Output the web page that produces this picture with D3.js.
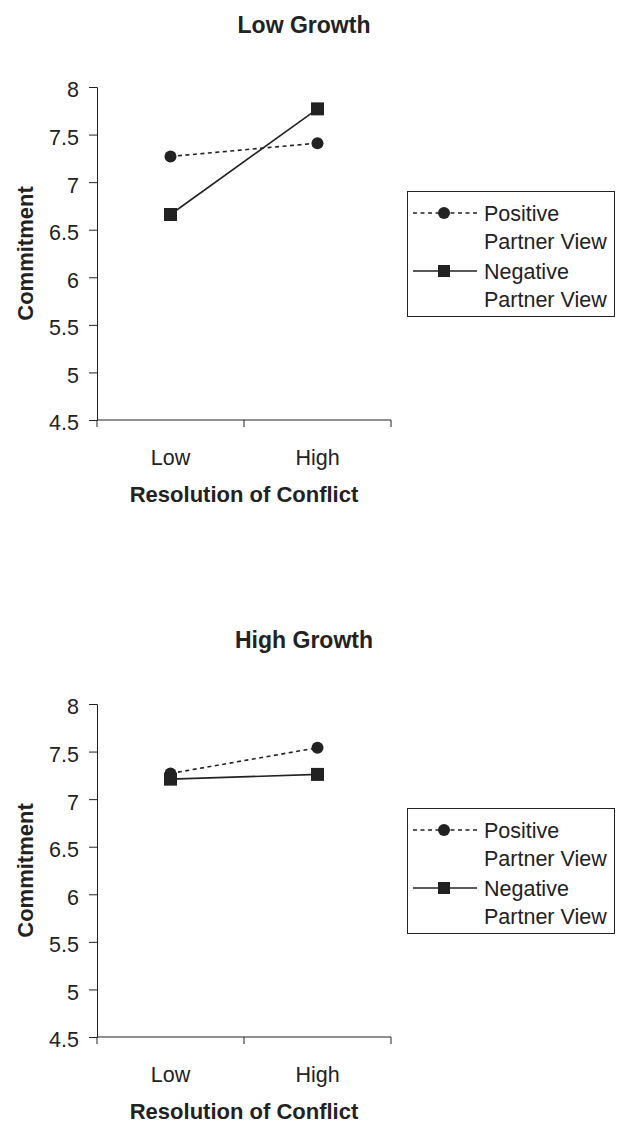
<!DOCTYPE html>
<html>
<head>
<meta charset="utf-8">
<script src="https://cdn.jsdelivr.net/npm/d3@7"></script>
<style>
  body { margin: 0; background: #fff; }
  svg { display: block; font-family: "Liberation Sans", Arial, sans-serif; }
</style>
</head>
<body>
<script>
// chart data
let categories = ["Low", "High"];
let yTicks = [4.5, 5, 5.5, 6, 6.5, 7, 7.5, 8];
let panelTitles = ["Low Growth", "High Growth"];
let seriesNames = ["Positive Partner View", "Negative Partner View"];
let lowGrowthPositive = [7.27, 7.41];
let lowGrowthNegative = [6.66, 7.77];
let highGrowthPositive = [7.27, 7.54];
let highGrowthNegative = [7.21, 7.26];

let panelData = [
  [lowGrowthPositive, lowGrowthNegative],
  [highGrowthPositive, highGrowthNegative],
];

// dimensions
let width = 617;
let height = 1122;
let panelOffset = 617;
let plotLeft = 97;
let plotRight = 391;
let plotTop = 87;
let plotBottom = 420;
let titleY = [33, 31];
let ink = "#222";

let svg = d3
  .select("body")
  .append("svg")
  .attr("width", width)
  .attr("height", height);

let x = d3
  .scaleBand()
  .domain(categories)
  .range([plotLeft, plotRight]);

let y = d3
  .scaleLinear()
  .domain([4.5, 8])
  .range([plotBottom, plotTop]);

let symbolFor = function (i) {
  return i === 0
    ? d3.symbol().type(d3.symbolCircle).size(Math.PI * 36)
    : d3.symbol().type(d3.symbolSquare).size(169);
};

panelTitles.forEach(function (title, p) {
  let g = svg.append("g").attr("transform", `translate(0,${p * panelOffset})`);

  // title
  g.append("text")
    .attr("x", 304)
    .attr("y", titleY[p])
    .attr("text-anchor", "middle")
    .attr("font-weight", "bold")
    .attr("font-size", 23)
    .attr("fill", ink)
    .text(title);

  // y axis
  let yAxis = g
    .append("g")
    .attr("transform", `translate(${plotLeft},0)`)
    .call(
      d3.axisLeft(y).tickValues(yTicks).tickSize(8).tickPadding(10).tickFormat(d3.format("~g"))
    );
  yAxis.select(".domain").attr("stroke", ink);
  yAxis.selectAll(".tick line").attr("stroke", ink);
  yAxis
    .selectAll(".tick text")
    .attr("font-size", 21.5)
    .attr("font-family", "Liberation Sans, Arial, sans-serif")
    .attr("fill", ink)
    .attr("dy", "0.46em");

  // x axis: line, ticks between categories, labels at centers
  let xAxis = g
    .append("g")
    .attr("transform", `translate(0,${plotBottom})`)
    .call(d3.axisBottom(x).tickSize(0).tickPadding(45));
  xAxis.select(".domain").attr("stroke", ink).attr("d", `M${plotLeft},0H${plotRight}`);
  xAxis
    .selectAll(".tick text")
    .attr("font-size", 21.5)
    .attr("font-family", "Liberation Sans, Arial, sans-serif")
    .attr("fill", ink)
    .attr("dy", 0);
  let bounds = categories.map((c) => x(c)).concat([x(categories[1]) + x.bandwidth()]);
  xAxis
    .selectAll("line.sep")
    .data(bounds)
    .join("line")
    .attr("class", "sep")
    .attr("x1", (d) => d)
    .attr("x2", (d) => d)
    .attr("y1", 0)
    .attr("y2", 7)
    .attr("stroke", ink);

  // axis titles
  g.append("text")
    .attr("x", 244)
    .attr("y", 502)
    .attr("text-anchor", "middle")
    .attr("font-weight", "bold")
    .attr("font-size", 22)
    .attr("fill", ink)
    .text("Resolution of Conflict");

  g.append("text")
    .attr("transform", `translate(33,${(plotTop + plotBottom) / 2}) rotate(-90)`)
    .attr("text-anchor", "middle")
    .attr("font-weight", "bold")
    .attr("font-size", 22)
    .attr("fill", ink)
    .text("Commitment");

  // series lines and markers
  let line = d3
    .line()
    .x((d, i) => x(categories[i]) + x.bandwidth() / 2)
    .y((d) => y(d));

  panelData[p].forEach(function (values, s) {
    g.append("path")
      .attr("d", line(values))
      .attr("fill", "none")
      .attr("stroke", ink)
      .attr("stroke-width", 1.6)
      .attr("stroke-dasharray", s === 0 ? "4,3.5" : null);

    g.selectAll(null)
      .data(values)
      .join("path")
      .attr("d", symbolFor(s))
      .attr(
        "transform",
        (d, i) => `translate(${x(categories[i]) + x.bandwidth() / 2},${y(d)})`
      )
      .attr("fill", ink);
  });

  // legend
  let legend = g.append("g");
  legend
    .append("rect")
    .attr("x", 407.5)
    .attr("y", 191.5)
    .attr("width", 207)
    .attr("height", 125)
    .attr("fill", "#fff")
    .attr("stroke", ink);

  let rowY = [213, 271];
  seriesNames.forEach(function (name, s) {
    legend
      .append("line")
      .attr("x1", 413)
      .attr("x2", 477)
      .attr("y1", rowY[s])
      .attr("y2", rowY[s])
      .attr("stroke", ink)
      .attr("stroke-width", 1.6)
      .attr("stroke-dasharray", s === 0 ? "4,3.5" : null);
    legend
      .append("path")
      .attr("d", s === 0
        ? d3.symbol().type(d3.symbolCircle).size(Math.PI * 36)()
        : d3.symbol().type(d3.symbolSquare).size(144)())
      .attr("transform", `translate(444,${rowY[s]})`)
      .attr("fill", ink);

    let words = name.split(" ");
    let txt = legend
      .append("text")
      .attr("x", 484)
      .attr("y", rowY[s] + 8)
      .attr("font-size", 21.5)
      .attr("fill", ink);
    txt.append("tspan").attr("x", 484).text(words[0]);
    txt.append("tspan").attr("x", 484).attr("dy", 27.5).text(words.slice(1).join(" "));
  });
});
</script>
</body>
</html>
